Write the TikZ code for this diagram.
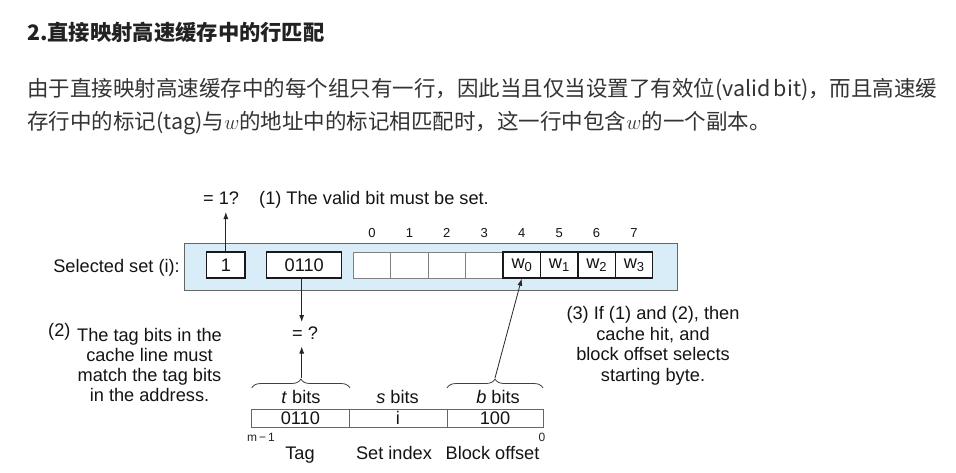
\documentclass[tikz,border=0pt]{standalone}
\usepackage{fontspec}
\setmainfont{Liberation Sans}
\newfontfamily\cjk{Noto Sans CJK SC}
\usetikzlibrary{decorations.pathreplacing,arrows.meta}
\definecolor{setblue}{HTML}{D9EDF9}
\definecolor{bodytxt}{HTML}{333333}
\definecolor{headtxt}{HTML}{222222}
\begin{document}
\begin{tikzpicture}[x=1pt,y=-1pt,
  dtxt/.style={font=\fontsize{18.2}{20}\selectfont, inner sep=0, text=black!92},
  smalltxt/.style={font=\fontsize{13}{14}\selectfont, inner sep=0, text=black!92},
  tinytxt/.style={font=\fontsize{12}{13}\selectfont, inner sep=0, text=black!85},
  cjktxt/.style={font=\cjk\fontsize{21.5}{30}\selectfont, inner sep=0, text=bodytxt},
  headtext/.style={font=\cjk\bfseries\fontsize{21.3}{30}\selectfont, inner sep=0, text=headtxt},
  thickbox/.style={draw=black!90, line width=1.5pt, fill=white, minimum height=26pt, inner sep=0, dtxt},
  thinbox/.style={draw=black!50, line width=0.8pt, fill=white, minimum height=26pt, minimum width=37.42pt, inner sep=0},
  wbox/.style={draw=black!90, line width=1.4pt, fill=white, minimum height=26pt, minimum width=37.42pt, inner sep=0, dtxt},
  addrbox/.style={draw=black!60, line width=0.9pt, minimum height=18pt, inner sep=0, dtxt},
  arr/.style={-{Latex[length=7pt,width=5pt]}, line width=0.8pt, draw=black!85},
  brc/.style={decorate, decoration={brace, amplitude=9pt}, line width=0.8pt, draw=black!75}
]
\useasboundingbox (0,0) rectangle (956,472);
\fill[white] (0,0) rectangle (956,472);

% heading and paragraph
\node[headtext, anchor=base west] (head) at (27,40) {2.直接映射高速缓存中的行匹配};
\node[cjktxt, anchor=base west] (l1) at (27,96) {\XeTeXlinebreaklocale "zh"\XeTeXlinebreakskip=0pt plus 3pt\hbox to 906pt{由于直接映射高速缓存中的每个组只有一行，因此当且仅当设置了有效位(valid bit)，而且高速缓}};
\node[cjktxt, anchor=base west] (l2) at (27,129) {存行中的标记(tag)与$w$的地址中的标记相匹配时，这一行中包含$w$的一个副本。};

% selected set
\node[draw=black!60, line width=0.9pt, fill=setblue, minimum width=492.7pt, minimum height=47.3pt, inner sep=0, anchor=north west] (set) at (184,242.7) {};
\node[dtxt, anchor=base east] (sel) at (180,272.5) {Selected set (i):};
\node[thickbox, minimum width=38.3pt] (v) at (225.85,265) {1};
\node[thickbox, minimum width=75pt] (tagbox) at (304.2,265) {0110};
\foreach \k in {0,1,2,3}{
  \node[thinbox] (c\k) at ({353.3+37.42*(\k+0.5)},265) {};
}
\foreach \k/\w in {4/0,5/1,6/2,7/3}{
  \node[wbox] (c\k) at ({353.3+37.42*(\k+0.5)},265) {w\raisebox{-0.35ex}{\fontsize{13}{14}\selectfont\w}};
}
\foreach \k in {0,...,7}{
  \node[smalltxt] (n\k) at ({353.3+37.42*(\k+0.5)},233) {\k};
}

% (1)
\node[dtxt, anchor=base west] (eq1) at (203,204.5) {= 1?};
\node[dtxt, anchor=base west] (t1) at (259,204.5) {(1) The valid bit must be set.};
\coordinate (a1) at (225.85,212);
\draw[arr] (v.north) -- (a1);

% (2)
\coordinate (a2) at (301.7,322);
\coordinate (a3) at (301.7,346.5);
\coordinate (tmid) at (301.7,378);
\draw[arr] (tagbox.south -| a2) -- (a2);
\draw[arr] (tmid) -- (a3);
\node[dtxt] (eqq) at (305,333) {= ?};
\node[dtxt, anchor=base west] (two) at (48,336.5) {(2)};
\node[dtxt, anchor=base] (t2a) at (149.5,341.5) {The tag bits in the};
\node[dtxt, anchor=base] (t2b) at (149.5,361.5) {cache line must};
\node[dtxt, anchor=base] (t2c) at (149.5,381.5) {match the tag bits};
\node[dtxt, anchor=base] (t2d) at (149.5,401.5) {in the address.};

% (3)
\node[dtxt, anchor=base] (t3a) at (653,319.5) {(3) If (1) and (2), then};
\node[dtxt, anchor=base] (t3b) at (653,340.2) {cache hit, and};
\node[dtxt, anchor=base] (t3c) at (653,360.9) {block offset selects};
\node[dtxt, anchor=base] (t3d) at (653,381.6) {starting byte.};

% address
\node[addrbox, minimum width=97.3pt] (atag) at (300.35,418) {0110};
\node[addrbox, minimum width=98pt] (aset) at (398,418) {i};
\node[addrbox, minimum width=96pt] (aoff) at (495,418) {100};
\coordinate (tbl) at (251.7,388);
\coordinate (tbr) at (350,388);
\coordinate (bbl) at (447,388);
\coordinate (bbr) at (543,388);
\draw[brc] (tbl) -- (tbr);
\draw[brc] (bbl) -- (bbr);
\coordinate (bmid) at (495,378);
\draw[arr] (bmid) -- (c4.south);
\node[dtxt, anchor=base] (tb) at (301,403.5) {\textit{t} bits};
\node[dtxt, anchor=base] (sb) at (397.5,403.5) {\textit{s} bits};
\node[dtxt, anchor=base] (bb) at (498,403.5) {\textit{b} bits};
\node[tinytxt] (m1) at (261,437) {m\,−\,1};
\node[tinytxt] (z0) at (542,437) {0};
\node[dtxt, anchor=base] (tagl) at (300,459.5) {Tag};
\node[dtxt, anchor=base] (setl) at (394,459.5) {Set index};
\node[dtxt, anchor=base] (offl) at (492.5,459.5) {Block offset};
\end{tikzpicture}
\end{document}
